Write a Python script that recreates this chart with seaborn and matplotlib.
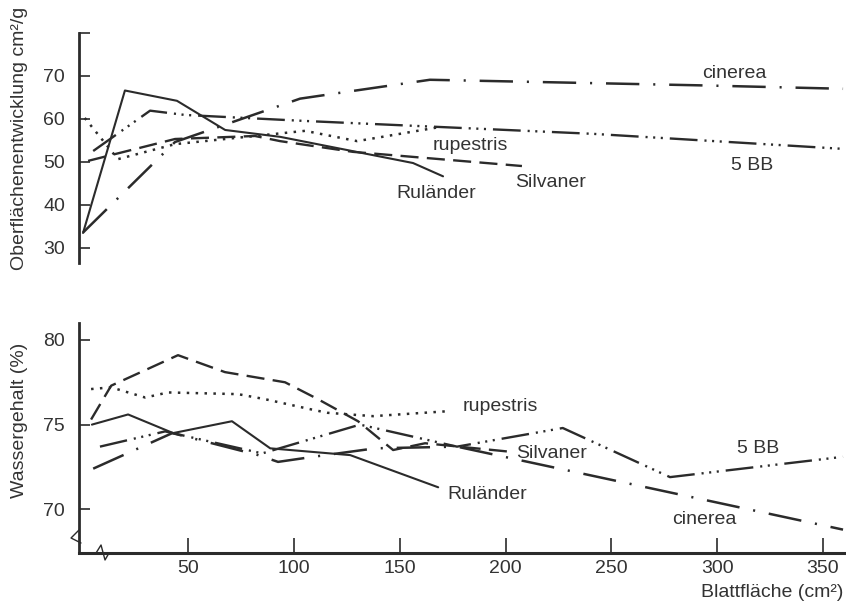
import matplotlib
matplotlib.use("Agg")
import matplotlib.pyplot as plt
import seaborn as sns
import pandas as pd

# ---------------- data ----------------
# Upper panel: Oberflächenentwicklung (cm²/g) vs Blattfläche (cm²)
rul_o_x = [0.2, 20.0, 44.6, 67.4, 93.4, 156.2, 170.4]
rul_o_y = [33.4, 66.6, 64.2, 57.4, 55.8, 49.7, 46.6]
sil_o_x = [2.6, 43.7, 81.5, 93.4, 127.8, 207.7]
sil_o_y = [50.2, 55.3, 56.0, 54.8, 52.3, 49.0]
rup_o_x = [1.0, 16.7, 43.7, 105.2, 129.8, 169.0]
rup_o_y = [60.2, 50.6, 54.1, 57.2, 54.8, 58.1]
bb_o_x = [5.0, 31.9, 48.4, 105.2, 241.3, 359.5]
bb_o_y = [52.5, 61.9, 60.9, 59.5, 56.5, 53.0]
cin_o_x = [0.2, 43.7, 102.8, 125.0, 164.2, 292.0, 359.5]
cin_o_y = [33.5, 54.6, 64.7, 66.3, 69.1, 67.8, 67.0]

# Lower panel: Wassergehalt (%) vs Blattfläche (cm²)
rul_w_x = [4.4, 21.5, 42.8, 70.6, 88.7, 126.5, 168.1]
rul_w_y = [75.0, 75.6, 74.5, 75.2, 73.6, 73.2, 71.3]
sil_w_x = [4.0, 13.5, 45.1, 67.3, 95.7, 111.3, 130.2, 146.8, 161.9, 202.0]
sil_w_y = [75.3, 77.3, 79.1, 78.1, 77.5, 76.5, 75.2, 73.5, 73.9, 73.4]
rup_w_x = [4.0, 13.5, 29.6, 40.4, 73.5, 86.3, 108.0, 115.6, 137.3, 173.7]
rup_w_y = [77.1, 77.2, 76.6, 76.9, 76.8, 76.5, 75.9, 75.7, 75.5, 75.8]
bb_w_x = [8.2, 39.0, 84.9, 131.1, 177.0, 227.0, 277.7, 359.5]
bb_w_y = [73.7, 74.6, 73.3, 75.0, 73.7, 74.8, 71.9, 73.1]
cin_w_x = [5.0, 42.4, 83.0, 92.4, 109.0, 138.3, 177.0, 359.5]
cin_w_y = [72.4, 74.5, 73.2, 72.8, 73.1, 73.6, 73.7, 68.8]

upper_yticks = [30, 40, 50, 60, 70, 80]
upper_yticklabels = ["30", "40", "50", "60", "70", ""]
lower_yticks = [70, 75, 80]
lower_xticks = [50, 100, 150, 200, 250, 300, 350]

upper_labels = {"cinerea": (308, 70.6), "rupestris": (183.2, 53.8), "5 BB": (316.5, 49.1),
                "Silvaner": (221, 45.2), "Ruländer": (167.1, 42.6)}
lower_labels = {"rupestris": (197.4, 76.08), "5 BB": (319.3, 73.58), "Silvaner": (221.5, 73.28),
                "Ruländer": (191.2, 70.88), "cinerea": (293.8, 69.38)}

# ---------------- styling ----------------
sns.set_theme(style="white")
plt.rcParams["font.family"] = ["Liberation Sans", "DejaVu Sans"]
plt.rcParams["lines.scale_dashes"] = False
INK = "#2b2b2b"
TXT = "#333333"
FS = 14

styles = {
    "Ruländer": dict(linestyle="-", lw=1.5),
    "Silvaner": dict(linestyle=(0, (13, 6)), lw=1.7),
    "rupestris": dict(linestyle=(0, (1.8, 4.6)), lw=1.8),
    "5 BB": dict(linestyle=(0, (20, 5, 1.5, 4, 1.5, 4, 1.5, 5)), lw=1.7),
    "cinerea": dict(linestyle=(0, (24, 10, 1.5, 10)), lw=1.8),
}

upper = {"Ruländer": (rul_o_x, rul_o_y), "Silvaner": (sil_o_x, sil_o_y),
         "rupestris": (rup_o_x, rup_o_y), "5 BB": (bb_o_x, bb_o_y),
         "cinerea": (cin_o_x, cin_o_y)}
lower = {"Ruländer": (rul_w_x, rul_w_y), "Silvaner": (sil_w_x, sil_w_y),
         "rupestris": (rup_w_x, rup_w_y), "5 BB": (bb_w_x, bb_w_y),
         "cinerea": (cin_w_x, cin_w_y)}

fig = plt.figure(figsize=(8.46, 6.03), dpi=100)
ax1 = fig.add_axes([0.0934, 0.56385, 0.9066, 0.38142])
ax2 = fig.add_axes([0.0934, 0.08292, 0.9066, 0.38142])


def draw(ax, series):
    for name, (xs, ys) in series.items():
        df = pd.DataFrame({"x": xs, "y": ys})
        sns.lineplot(data=df, x="x", y="y", ax=ax, sort=False, estimator=None,
                     color=INK, **styles[name])


draw(ax1, upper)
draw(ax2, lower)

for ax in (ax1, ax2):
    ax.set_xlim(-1.7, 360.9)
    ax.spines["top"].set_visible(False)
    ax.spines["right"].set_visible(False)
    ax.spines["left"].set_linewidth(2.0)
    ax.spines["left"].set_color(INK)
    ax.tick_params(axis="y", direction="in", length=8, width=1.2, color=INK,
                   labelsize=FS, labelcolor=TXT, pad=10, left=True)
    ax.set_xlabel("")
    ax.set_ylabel("")

# upper panel
ax1.set_ylim(26.4, 80.0)
ax1.set_yticks(upper_yticks)
ax1.set_yticklabels(upper_yticklabels)
ax1.spines["bottom"].set_visible(False)
ax1.set_xticks([])
ax1.set_ylabel("Oberflächenentwicklung cm²/g", fontsize=FS, color=TXT)
ax1.yaxis.set_label_coords(-0.066, 0.543)

# lower panel
ax2.set_ylim(67.42, 81.0)
ax2.set_yticks(lower_yticks)
ax2.set_xticks(lower_xticks)
ax2.spines["bottom"].set_linewidth(2.2)
ax2.spines["bottom"].set_color(INK)
ax2.tick_params(axis="x", direction="in", length=11, width=1.2, color=INK,
                labelsize=FS, labelcolor=TXT, pad=5, bottom=True)
ax2.set_ylabel("Wassergehalt (%)", fontsize=FS, color=TXT)
ax2.yaxis.set_label_coords(-0.066, 0.578)
ax2.set_xlabel("Blattfläche (cm²)", fontsize=FS, color=TXT, ha="right")
ax2.xaxis.set_label_coords(0.996, -0.135)

# series labels
for name, (x, y) in upper_labels.items():
    ax1.text(x, y, name, fontsize=FS, color=TXT, ha="center", va="center")
for name, (x, y) in lower_labels.items():
    ax2.text(x, y, name, fontsize=FS, color=TXT, ha="center", va="center")

# axis break marks (decoration)
ax2.plot([0.0, -0.0104, 0.0026], [0.10, 0.0652, 0.0435], transform=ax2.transAxes,
         clip_on=False, color=INK, lw=1.0)
ax2.plot([0.0222, 0.0287, 0.0339, 0.0391], [0.0, 0.0348, -0.0304, 0.0],
         transform=ax2.transAxes, clip_on=False, color=INK, lw=1.0)

fig.savefig("out.png", dpi=100, facecolor="white")
